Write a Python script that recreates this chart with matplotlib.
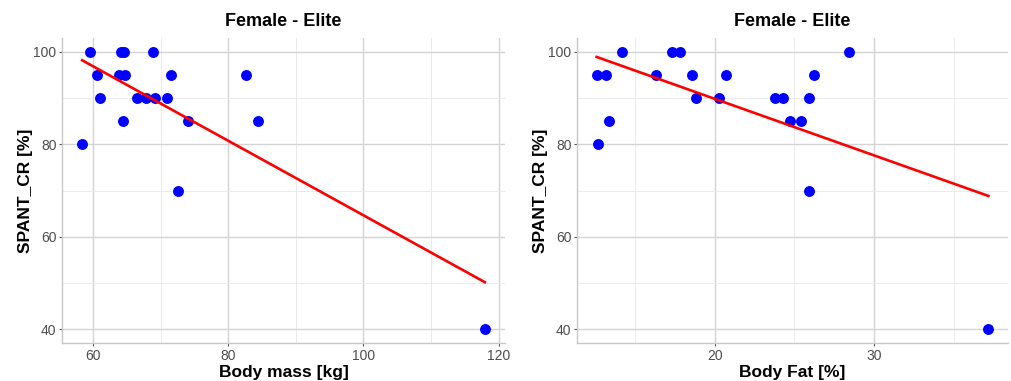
import numpy as np
from matplotlib import pyplot as plt

plt.rcParams['font.family'] = ['Liberation Sans', 'DejaVu Sans']

# SPANT_CR [%] against body mass / body fat, female elite
mass_kg = [59.6, 64.1, 64.6, 68.9, 60.6, 63.8, 64.8, 71.6, 82.7,
           61.1, 66.5, 67.9, 69.2, 70.9, 64.4, 74.1, 84.4, 58.4, 72.6, 117.95]
mass_cr = [100, 100, 100, 100, 95, 95, 95, 95, 95,
           90, 90, 90, 90, 90, 85, 85, 85, 80, 70, 40]

fat_pct = [14.2, 17.3, 17.8, 28.4, 12.6, 13.2, 16.3, 18.6, 20.7, 26.2,
           18.8, 20.3, 23.8, 24.3, 25.9, 13.4, 24.7, 25.4, 12.7, 25.9, 37.16]
fat_cr = [100, 100, 100, 100, 95, 95, 95, 95, 95, 95,
          90, 90, 90, 90, 90, 85, 85, 85, 80, 70, 40]

panels = [
    (mass_kg, mass_cr, 'Body mass [kg]', [60, 80, 100, 120], [70, 90, 110]),
    (fat_pct, fat_cr, 'Body Fat [%]', [20, 30], [15, 25, 35]),
]

W, H = 1011, 381
fig = plt.figure(figsize=(W / 100, H / 100), dpi=100)
boxes = [(62, 505), (577, 1008)]
top, bottom = 38, 343

for (x, y, xlabel, xt, xminor), (l, r) in zip(panels, boxes):
    ax = fig.add_axes([l / W, 1 - bottom / H, (r - l) / W, (bottom - top) / H])
    x = np.array(x)
    y = np.array(y)
    span = x.max() - x.min()
    ax.set_xlim(x.min() - 0.05 * span, x.max() + 0.05 * span)
    ax.set_ylim(37, 103)
    ax.set_xticks(xt)
    ax.set_xticks(xminor, minor=True)
    ax.set_yticks([40, 60, 80, 100])
    ax.set_yticks([50, 70, 90], minor=True)
    ax.grid(which='major', color='#d4d4d4', lw=1.0)
    ax.grid(which='minor', color='#ebebeb', lw=0.7)
    ax.set_axisbelow(True)
    for s in ['top', 'right']:
        ax.spines[s].set_visible(False)
    for s in ['left', 'bottom']:
        ax.spines[s].set_color('#c8c8c8')
        ax.spines[s].set_linewidth(1.0)
    ax.tick_params(which='major', color='#555555', length=2.5, width=0.8,
                   labelcolor='#4d4d4d', labelsize=10, pad=1.5)
    ax.tick_params(which='minor', length=0)

    ax.scatter(x, y, s=62, color='#0000ff', zorder=3, linewidths=0)
    b, a = np.polyfit(x, y, 1)
    xs = np.array([x.min(), x.max()])
    ax.plot(xs, a + b * xs, color='#ff0000', lw=1.9, zorder=4)

    ax.set_title('Female - Elite', fontsize=13, fontweight='bold', pad=9)
    ax.set_xlabel(xlabel, fontsize=12.5, fontweight='bold', labelpad=2)
    ax.set_ylabel('SPANT_CR [%]', fontsize=12.5, fontweight='bold', labelpad=0.5)

fig.savefig('out.png', dpi=100)
